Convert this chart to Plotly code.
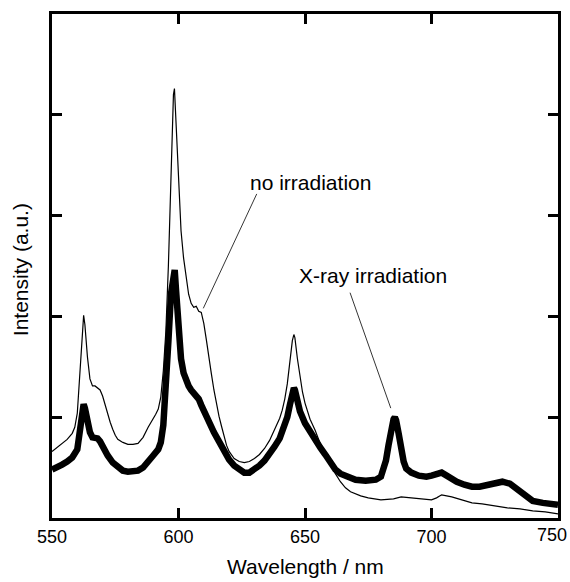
import plotly.graph_objects as go

# ---- data ----
wl_none = [550, 552, 554, 556, 558, 559, 560, 561, 562, 562.5, 563, 564, 565, 566, 567, 568, 569, 570,
           571, 572, 573, 574, 575, 576, 578, 580, 582, 584, 586, 588, 590, 591, 592, 593, 594, 595,
           596, 597, 598, 598.4, 599, 600, 601, 602, 603, 604, 605, 606, 607, 608, 609, 610, 611, 612,
           613, 614, 615, 616, 617, 618, 619, 620, 622, 624, 626, 628, 630, 632, 634, 636, 638, 640,
           641, 642, 643, 644, 645, 645.6, 646, 647, 648, 649, 650, 651, 652, 654, 656, 658, 660, 662,
           664, 666, 668, 670, 672, 675, 680, 685, 688, 692, 696, 700, 702, 704, 706, 708, 712, 716,
           720, 725, 730, 735, 740, 745, 750]
int_none = [0.66, 0.70, 0.74, 0.78, 0.84, 0.90, 1.04, 1.45, 1.92, 2.01, 1.92, 1.60, 1.38, 1.31, 1.31, 1.29, 1.27, 1.21,
            1.12, 1.02, 0.95, 0.88, 0.82, 0.78, 0.75, 0.73, 0.73, 0.74, 0.80, 0.90, 0.98, 1.03, 1.08, 1.20, 1.46, 1.85,
            2.50, 3.45, 4.20, 4.26, 3.95, 3.30, 2.85, 2.58, 2.38, 2.22, 2.13, 2.09, 2.10, 2.05, 2.04, 1.93, 1.77, 1.58,
            1.43, 1.27, 1.13, 1.01, 0.91, 0.81, 0.72, 0.66, 0.59, 0.56, 0.55, 0.56, 0.59, 0.63, 0.69, 0.77, 0.88, 0.99,
            1.07, 1.18, 1.33, 1.53, 1.76, 1.82, 1.79, 1.58, 1.40, 1.25, 1.14, 1.06, 0.98, 0.87, 0.74, 0.64, 0.54, 0.44,
            0.36, 0.30, 0.26, 0.24, 0.22, 0.20, 0.18, 0.19, 0.21, 0.20, 0.19, 0.18, 0.20, 0.23, 0.22, 0.21, 0.18, 0.15,
            0.14, 0.12, 0.10, 0.09, 0.07, 0.06, 0.04]

wl_xray = [550, 552, 554, 556, 558, 560, 561, 562, 562.5, 563, 564, 565, 566, 567, 568, 569, 570, 572, 574,
           576, 578, 580, 582, 584, 586, 588, 590, 592, 593, 594, 595, 596, 597, 598, 598.5, 599, 600, 601,
           602, 603, 604, 605, 606, 607, 608, 609, 610, 611, 612, 614, 616, 618, 620, 622, 624, 626, 628,
           630, 632, 634, 636, 638, 640, 642, 643, 644, 645, 645.6, 646, 647, 648, 650, 652, 654, 656, 658,
           660, 662, 664, 666, 668, 670, 674, 678, 680, 682, 683, 684, 685, 685.5, 686, 687, 688, 689, 690,
           692, 695, 698, 700, 702, 704, 706, 708, 710, 713, 716, 719, 722, 725, 728, 731, 734, 737, 740,
           744, 750]
int_xray = [0.48, 0.50, 0.53, 0.56, 0.60, 0.68, 0.87, 1.08, 1.13, 1.09, 0.94, 0.85, 0.80, 0.80, 0.79, 0.76, 0.71, 0.62, 0.55,
            0.50, 0.47, 0.46, 0.46, 0.47, 0.50, 0.55, 0.62, 0.68, 0.75, 0.92, 1.25, 1.75, 2.22, 2.46, 2.46, 2.27, 1.85, 1.58,
            1.44, 1.36, 1.31, 1.27, 1.24, 1.22, 1.18, 1.12, 1.06, 1.00, 0.95, 0.85, 0.76, 0.66, 0.58, 0.52, 0.48, 0.45, 0.45,
            0.48, 0.52, 0.57, 0.63, 0.71, 0.79, 0.91, 1.00, 1.12, 1.25, 1.29, 1.27, 1.16, 1.06, 0.94, 0.85, 0.77, 0.70, 0.63,
            0.56, 0.48, 0.44, 0.42, 0.40, 0.38, 0.37, 0.38, 0.41, 0.57, 0.72, 0.89, 0.98, 1.00, 0.97, 0.84, 0.68, 0.56, 0.49,
            0.45, 0.42, 0.41, 0.42, 0.44, 0.45, 0.42, 0.38, 0.36, 0.33, 0.31, 0.31, 0.33, 0.35, 0.36, 0.34, 0.28, 0.21, 0.17,
            0.15, 0.13]

x_ticks = [550, 600, 650, 700, 750]
x_tick_labels = ["550", "600", "650", "700", ""]   # last label drawn as an annotation (sits at the edge)
last_tick_label = "750"
label_none = "no irradiation"
label_xray = "X-ray irradiation"
x_title = "Wavelength / nm"
y_title = "Intensity (a.u.)"

FONT = "Liberation Sans, Arial, sans-serif"

fig = go.Figure()
fig.add_trace(go.Scatter(x=wl_none, y=int_none, mode="lines",
                         line=dict(color="black", width=1.2), showlegend=False))
fig.add_trace(go.Scatter(x=wl_xray, y=int_xray, mode="lines",
                         line=dict(color="black", width=6.5), showlegend=False))

# labels with leader lines
fig.add_annotation(x=652.2, y=3.33, text=label_none, showarrow=False,
                   font=dict(family=FONT, size=21, color="black"))
fig.add_annotation(x=609.8, y=2.08, ax=631.2, ay=3.23, axref="x", ayref="y",
                   showarrow=True, arrowhead=0, arrowwidth=0.8, arrowcolor="black", text="")
fig.add_annotation(x=676.7, y=2.41, text=label_xray, showarrow=False,
                   font=dict(family=FONT, size=21, color="black"))
fig.add_annotation(x=683.9, y=1.09, ax=667.6, ay=2.25, axref="x", ayref="y",
                   showarrow=True, arrowhead=0, arrowwidth=0.8, arrowcolor="black", text="")

# last x tick label, kept inside the page
fig.add_annotation(xref="paper", yref="paper", x=1.0217, y=-0.0337, xanchor="right", yanchor="middle",
                   text=last_tick_label, showarrow=False,
                   font=dict(family=FONT, size=18, color="black"))

# axis titles
fig.add_annotation(xref="paper", yref="paper", x=0.5, y=-0.097, xanchor="center", yanchor="middle",
                   text=x_title, showarrow=False,
                   font=dict(family=FONT, size=21, color="black"))
fig.add_annotation(xref="paper", yref="paper", x=-0.063, y=0.492, xanchor="center", yanchor="middle",
                   text=y_title, showarrow=False,
                   textangle=-90, font=dict(family=FONT, size=21, color="black"))

fig.update_layout(
    width=570, height=582,
    margin=dict(l=52, r=12, t=14, b=64, autoexpand=False),
    plot_bgcolor="white", paper_bgcolor="white",
    font=dict(family=FONT, color="black"),
    xaxis=dict(range=[550, 750], tickvals=x_ticks, ticktext=x_tick_labels,
               ticks="inside", ticklen=10, tickwidth=3, tickcolor="black",
               showline=True, linewidth=3, linecolor="black", mirror="allticks",
               showgrid=False, zeroline=False, tickfont=dict(size=18), automargin=False,
               ticklabeloverflow="allow"),
    yaxis=dict(range=[0, 5.0], tickvals=[1, 2, 3, 4], showticklabels=False,
               ticks="inside", ticklen=10, tickwidth=3, tickcolor="black",
               showline=True, linewidth=3, linecolor="black", mirror="allticks",
               showgrid=False, zeroline=False, automargin=False),
)

fig.write_html("out.html", config={"displayModeBar": False},
               post_script="document.body.style.margin='0';document.body.style.overflow='hidden';")
